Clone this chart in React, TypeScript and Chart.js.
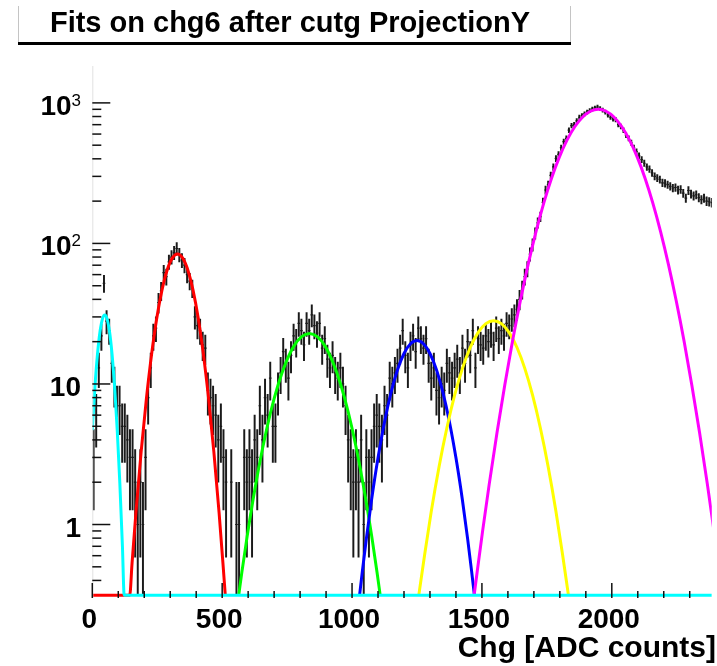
import React, { useEffect, useRef } from "react";
import { Chart, registerables } from "chart.js";
Chart.register(...registerables);

// ---- axis ranges ----
const YMIN = 0.3144;
const YMAX = 1830;
const XMIN = 0;
const XMAX = 2385;

// ---- histogram (chg6 after cutg, ProjectionY), 10 ADC bins from 0 ----
const BIN_WIDTH = 10;
const BIN_START = 0;
const counts = [
  3, 6, 13, 22, 52, 28, 24, 14, 10, 7,
  7, 5, 5, 4, 3, 3, 2, 1, 2, 1,
  3, 8, 13, 22, 25, 38, 46, 62, 58, 74,
  80, 86, 92, 83, 76, 70, 60, 54, 48, 30,
  26, 24, 19, 18, 9, 8, 7, 6, 4, 5,
  3, 2, 0, 2, 0, 1, 1, 0, 3, 2,
  3, 2, 4, 3, 7, 4, 8, 6, 11, 5,
  5, 9, 12, 17, 14, 11, 16, 22, 20, 27,
  24, 19, 27, 24, 31, 26, 23, 27, 18, 21,
  15, 13, 16, 12, 11, 13, 10, 7, 4, 3,
  2, 3, 2, 4, 1, 3, 2, 3, 5, 6,
  5, 4, 7, 6, 11, 10, 12, 14, 18, 24,
  16, 13, 19, 22, 17, 25, 21, 18, 21, 14,
  11, 13, 9, 8, 10, 9, 14, 12, 11, 13,
  15, 12, 18, 14, 20, 16, 24, 13, 21, 19,
  18, 22, 20, 23, 19, 25, 21, 24, 22, 27,
  26, 29, 31, 34, 40, 47, 58, 66, 84, 98,
  118, 140, 155, 196, 240, 262, 305, 350, 402, 430,
  480, 530, 560, 640, 690, 700, 745, 790, 810, 835,
  860, 880, 905, 920, 935, 910, 890, 860, 820, 790,
  770, 760, 700, 680, 640, 590, 560, 520, 480, 450,
  420, 395, 372, 350, 338, 318, 300, 292, 285, 270,
  268, 262, 255, 248, 250, 240, 242, 228, 210, 238,
  225, 218, 222, 212, 205, 210, 200, 198, 195,
];

// ---- fitted curves ----
const cyanX = [0, 10, 20, 30, 40, 48, 56, 66, 76, 86, 96, 106, 116, 122.8, 2385];
const cyanY = [4.7, 9.5, 16.3, 23.8, 29.4, 31, 29.4, 23.8, 16.3, 9.5, 4.7, 1.97, 0.7, YMIN, YMIN];

const redX = [0, 144.1, 153, 168, 188, 208, 228, 248, 268, 288, 308, 328, 348, 368, 388, 408, 428, 448, 468, 488, 503, 511.9];
const redY = [YMIN, YMIN, 0.53, 1.22, 3.29, 7.78, 16.1, 29.2, 46.3, 64.5, 78.6, 84, 78.6, 64.5, 46.3, 29.2, 16.1, 7.78, 3.29, 1.22, 0.53, YMIN];

const greenX = [563.7, 576, 596, 626, 656, 686, 716, 746, 776, 806, 836, 866, 896, 926, 956, 986, 1016, 1046, 1076, 1096, 1108.3];
const greenY = [YMIN, 0.46, 0.82, 1.79, 3.52, 6.24, 9.96, 14.3, 18.6, 21.7, 22.9, 21.7, 18.6, 14.3, 9.96, 6.24, 3.52, 1.79, 0.82, 0.46, YMIN];

const blueX = [1029, 1040, 1055, 1075, 1100, 1125, 1150, 1175, 1200, 1225, 1250, 1275, 1300, 1325, 1350, 1375, 1400, 1425, 1445, 1460, 1471];
const blueY = [YMIN, 0.47, 0.79, 1.49, 2.98, 5.37, 8.68, 12.62, 16.48, 19.34, 20.4, 19.34, 16.48, 12.62, 8.68, 5.37, 2.98, 1.49, 0.79, 0.47, YMIN];

const yellowX = [1257, 1280, 1305, 1335, 1365, 1395, 1425, 1455, 1485, 1515, 1545, 1575, 1605, 1635, 1665, 1695, 1725, 1755, 1785, 1810, 1833];
const yellowY = [YMIN, 0.62, 1.24, 2.58, 4.86, 8.32, 12.91, 18.17, 23.2, 26.86, 28.2, 26.86, 23.2, 18.17, 12.91, 8.32, 4.86, 2.58, 1.24, 0.62, YMIN];

const magentaX = [1470, 1483, 1503, 1528, 1558, 1588, 1618, 1648, 1678, 1708, 1738, 1768, 1798, 1828, 1858, 1888, 1918, 1948, 1978, 2008, 2038, 2068, 2098, 2128, 2158, 2188, 2218, 2248, 2278, 2308, 2338, 2368, 2393];
const magentaY = [YMIN, 0.48, 0.908, 1.93, 4.49, 9.85, 20.3, 39.1, 71.0, 121, 193.7, 291, 411, 545, 679, 794, 872, 900, 872, 794, 679, 545, 411, 291, 193.7, 121, 71.0, 39.1, 20.3, 9.85, 4.49, 1.93, 0.908];

// ---- ticks / texts ----
const xMajorTicks = [0, 500, 1000, 1500, 2000];
const xTickLabels = ["0", "500", "1000", "1500", "2000"];
const xMinorStep = 100;
const yDecades = [1, 10, 100, 1000];
const yDecadeBase = ["1", "10", "10", "10"];
const yDecadeExp = ["", "", "2", "3"];
const titleText = "Fits on chg6 after cutg ProjectionY";
const xAxisTitle = "Chg [ADC counts]";

const FONT = '"Liberation Sans", Arial, Helvetica, sans-serif';

function curve(xs: number[], ys: number[], color: string, order: number) {
  return {
    type: "line" as const,
    data: xs.map((x, i) => ({ x, y: ys[i] })),
    borderColor: color,
    backgroundColor: color,
    borderWidth: 3,
    pointRadius: 0,
    fill: false,
    cubicInterpolationMode: "monotone" as const,
    order,
  };
}

const rootDecor = {
  id: "rootDecor",
  beforeDraw(chart: any) {
    const { ctx, width, height } = chart;
    ctx.save();
    ctx.fillStyle = "#fff";
    ctx.fillRect(0, 0, width, height);
    ctx.restore();
  },
  afterDraw(chart: any) {
    const { ctx, chartArea: a } = chart;
    const xs = chart.scales.x;
    const ys = chart.scales.y;
    ctx.save();
    // y axis line (faint)
    ctx.strokeStyle = "#e2e2e2";
    ctx.lineWidth = 1;
    ctx.beginPath();
    ctx.moveTo(a.left + 0.5, a.top);
    ctx.lineTo(a.left + 0.5, a.bottom);
    ctx.stroke();

    // y ticks
    ctx.strokeStyle = "#111";
    ctx.lineWidth = 1.5;
    for (let e = Math.floor(Math.log10(YMIN)); e <= Math.ceil(Math.log10(YMAX)); e++) {
      for (let m = 1; m <= 9; m++) {
        const v = m * Math.pow(10, e);
        if (v < YMIN || v > YMAX) continue;
        const py = ys.getPixelForValue(v);
        const len = m === 1 ? 18 : 9;
        ctx.beginPath();
        ctx.moveTo(a.left, py);
        ctx.lineTo(a.left + len, py);
        ctx.stroke();
      }
    }
    // x ticks
    for (let v = XMIN; v <= XMAX; v += xMinorStep) {
      const px = xs.getPixelForValue(v);
      const len = xMajorTicks.includes(v) ? 15 : 7;
      ctx.beginPath();
      ctx.moveTo(px, a.bottom);
      ctx.lineTo(px, a.bottom - len);
      ctx.stroke();
    }

    ctx.fillStyle = "#000";
    // x labels
    ctx.font = `bold 28px ${FONT}`;
    ctx.textAlign = "center";
    ctx.textBaseline = "alphabetic";
    xMajorTicks.forEach((v, i) => {
      const px = xs.getPixelForValue(v);
      ctx.fillText(xTickLabels[i], px - 3, 628);
    });

    // y labels
    const rightEdge = 81;
    yDecades.forEach((v, i) => {
      const py = ys.getPixelForValue(v);
      ctx.font = `bold 28px ${FONT}`;
      const wb = ctx.measureText(yDecadeBase[i]).width;
      let we = 0;
      if (yDecadeExp[i]) {
        ctx.font = `17px ${FONT}`;
        we = ctx.measureText(yDecadeExp[i]).width;
      }
      const start = rightEdge - wb - we;
      ctx.textAlign = "left";
      ctx.font = `bold 28px ${FONT}`;
      ctx.fillText(yDecadeBase[i], start, py + 12);
      if (yDecadeExp[i]) {
        ctx.font = `17px ${FONT}`;
        ctx.fillText(yDecadeExp[i], start + wb, py + 3);
      }
    });

    // x axis title
    ctx.font = `bold 30px ${FONT}`;
    ctx.textAlign = "right";
    ctx.fillText(xAxisTitle, 716, 657);

    // title box
    ctx.strokeStyle = "#c4c4c4";
    ctx.lineWidth = 1;
    ctx.beginPath();
    ctx.moveTo(18.5, 6);
    ctx.lineTo(18.5, 42);
    ctx.moveTo(570.5, 6);
    ctx.lineTo(570.5, 42);
    ctx.stroke();
    ctx.fillStyle = "#000";
    ctx.fillRect(18, 42, 553, 3);
    ctx.font = `bold 29px ${FONT}`;
    ctx.textAlign = "center";
    ctx.fillText(titleText, 290, 32);
    ctx.restore();
  },
};

export default function App() {
  const ref = useRef<HTMLCanvasElement | null>(null);
  useEffect(() => {
    if (!ref.current) return;
    const bins = counts
      .map((n, i) => ({ n, x: BIN_START + (i + 0.5) * BIN_WIDTH }))
      .filter((b) => b.n > 0);
    const errBars = bins.map((b) => ({
      x: b.x,
      y: [Math.max(b.n - Math.sqrt(b.n), YMIN), b.n + Math.sqrt(b.n)],
    }));
    const marks = bins.map((b) => ({ x: b.x, y: b.n }));

    const chart = new Chart(ref.current, {
      type: "line",
      data: {
        datasets: [
          {
            type: "bar",
            data: errBars as any,
            backgroundColor: "#1a1a1a",
            borderWidth: 0,
            barThickness: 1.3,
            grouped: false,
            order: 10,
          } as any,
          {
            type: "line",
            data: marks,
            showLine: false,
            pointStyle: "line",
            pointRadius: 1.3,
            pointBorderWidth: 1.2,
            pointBorderColor: "#1a1a1a",
            pointBackgroundColor: "#1a1a1a",
            order: 9,
          } as any,
          curve(redX, redY, "#ff0000", 6),
          curve(greenX, greenY, "#00ff00", 5),
          curve(blueX, blueY, "#0000ff", 4),
          curve(yellowX, yellowY, "#ffff00", 3),
          curve(magentaX, magentaY, "#ff00ff", 2),
          curve(cyanX, cyanY, "#00ffff", 1),
        ],
      },
      options: {
        responsive: false,
        maintainAspectRatio: false,
        devicePixelRatio: 1,
        animation: false,
        events: [],
        layout: { padding: { left: 92.3, right: 0, top: 66, bottom: 68 } },
        scales: {
          x: { type: "linear", min: XMIN, max: XMAX, display: false, offset: false },
          y: { type: "logarithmic", min: YMIN, max: YMAX, display: false },
        },
        plugins: {
          legend: { display: false },
          tooltip: { enabled: false },
          title: { display: false },
        },
      },
      plugins: [rootDecor],
    } as any);
    return () => chart.destroy();
  }, []);
  return (
    <div style={{ position: "fixed", left: 0, top: 0, width: 717, height: 666, background: "#fff" }}>
      <canvas ref={ref} width={717} height={666} style={{ display: "block", width: "717px", height: "666px" }} />
    </div>
  );
}
